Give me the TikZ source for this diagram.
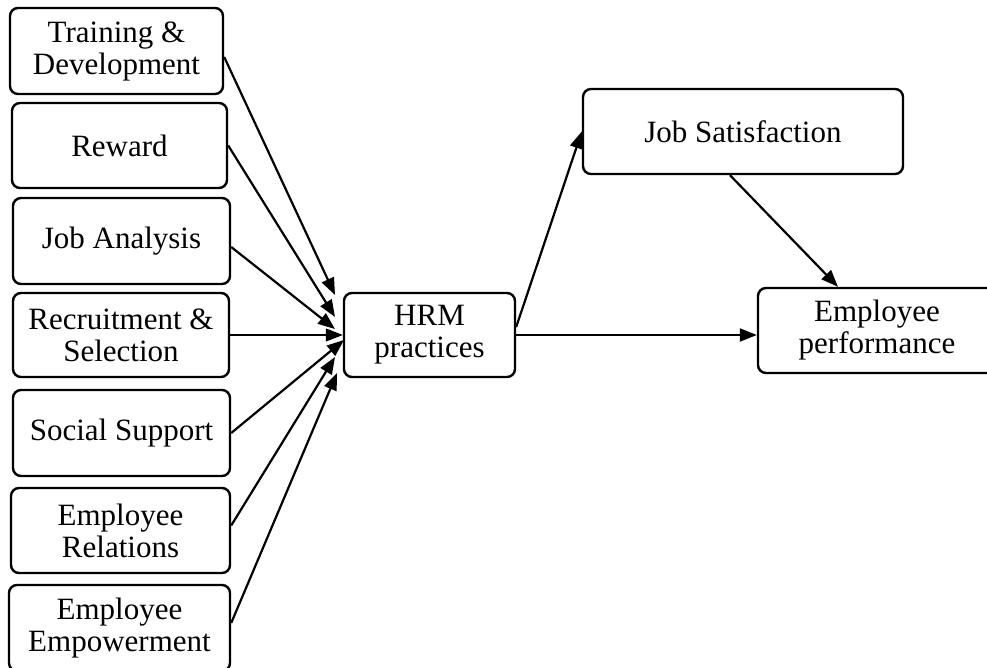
\documentclass[tikz,border=0pt]{standalone}
\usepackage{fontspec}
\setmainfont{Liberation Serif}
\usetikzlibrary{arrows.meta}
\begin{document}
\begin{tikzpicture}[x=1pt,y=-1pt,
  box/.style={draw, line width=2.4pt, rounded corners=8pt, align=center, inner sep=0pt, font=\fontsize{31}{32}\selectfont},
  arr/.style={line width=2.2pt, -{Triangle[length=17pt,width=13pt]}},
  thinarr/.style={line width=1.1pt, -{Triangle[length=17pt,width=13pt]}},
]
\useasboundingbox (0,0) rectangle (987,668);
\node[box, minimum width=213pt, minimum height=86pt] (T) at (116.5,51) {Training \&\\Development};
\node[box, minimum width=215pt, minimum height=85pt] (R) at (119.5,145.5) {Reward};
\node[box, minimum width=217pt, minimum height=86pt] (JA) at (121.5,241) {Job Analysis};
\node[box, minimum width=216pt, minimum height=84pt] (RS) at (121,335) {Recruitment \&\\Selection};
\node[box, minimum width=217pt, minimum height=86pt] (SS) at (121.5,433) {Social Support};
\node[box, minimum width=219pt, minimum height=85pt] (ER) at (120.5,530.5) {Employee\\Relations};
\node[box, minimum width=221pt, minimum height=86pt] (EE) at (119.5,628) {Employee\\Empowerment};
\node[box, minimum width=171pt, minimum height=84pt] (H) at (429.5,335) {HRM\\practices};
\node[box, minimum width=320pt, minimum height=85pt] (J) at (743,131.5) {Job Satisfaction};
\node[box, minimum width=238pt, minimum height=85pt] (P) at (877,330.5) {Employee\\performance};

\coordinate (h1) at (335,295);
\coordinate (h2) at (335,317);
\coordinate (h3) at (335,329);
\coordinate (h5) at (344,340);
\coordinate (h6) at (335,357);
\coordinate (h7) at (337,373);

\draw[arr] ([yshift=-6pt]T.east) -- (h1);
\draw[arr] (R.east) -- (h2);
\draw[arr] ([yshift=-6pt]JA.east) -- (h3);
\draw[thinarr] (RS.east) -- (H.west);
\draw[arr] (SS.east) -- (h5);
\draw[arr] ([yshift=5pt]ER.east) -- (h6);
\draw[arr] ([yshift=5pt]EE.east) -- (h7);

\draw[arr] ([yshift=8pt]H.east) -- (J.west);
\draw[arr] (H.east) -- (H.east -| P.west);
\draw[arr] ([xshift=-13pt]J.south) -- ([xshift=-39pt]P.north);
\end{tikzpicture}
\end{document}
